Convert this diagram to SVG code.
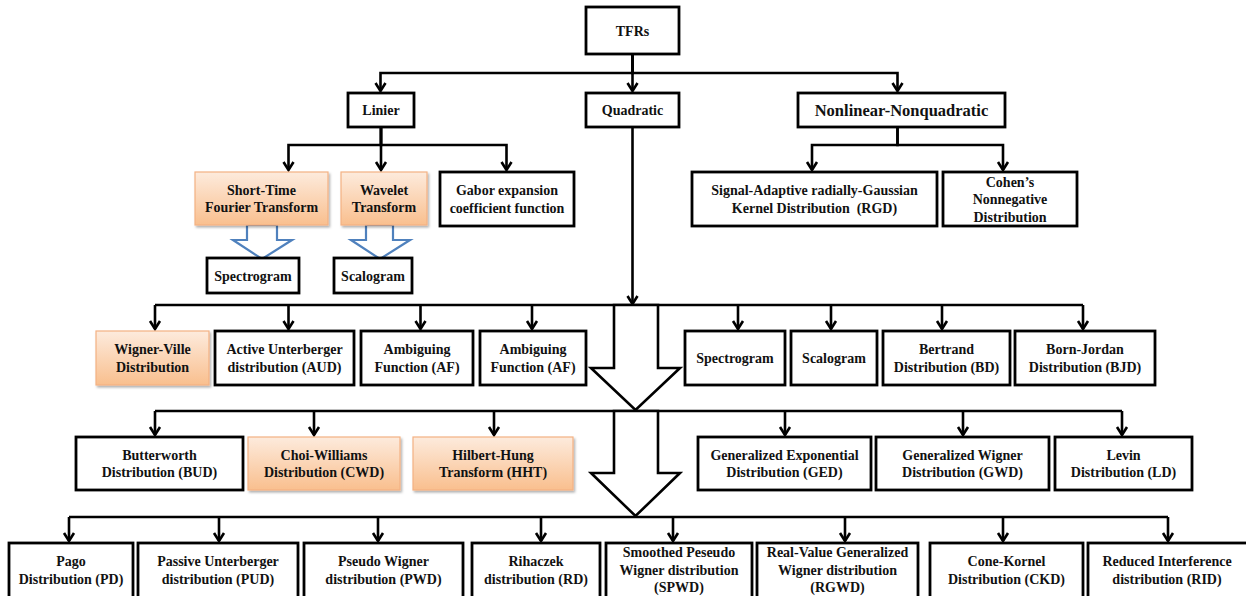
<svg xmlns="http://www.w3.org/2000/svg" width="1246" height="596" viewBox="0 0 1246 596">
  <style>
    .box { fill: #ffffff; stroke: #000000; stroke-width: 2.8; }
    .hl { fill: url(#orangeFill); stroke: #f4b183; stroke-width: 1.2; filter: url(#soft); }
    .t { font-family: "Liberation Serif", "Times New Roman", serif; font-weight: bold; font-size: 14px; fill: #111111; text-anchor: middle; }
    .big { font-size: 16.5px; }
    .wire { fill: none; stroke: #000000; stroke-width: 2.6; }
    .arr { marker-end: url(#head); }
    .fat { fill: #ffffff; stroke: #000000; stroke-width: 2.6; stroke-linejoin: miter; }
    .blue { fill: #ffffff; stroke: #4f81bd; stroke-width: 2.2; stroke-linejoin: miter; }
  </style>
  <defs>
    <linearGradient id="orangeFill" x1="0" y1="0" x2="0" y2="1">
      <stop offset="0" stop-color="#fdebdd"/>
      <stop offset="1" stop-color="#f9bf8e"/>
    </linearGradient>
    <filter id="soft" x="-10%" y="-10%" width="120%" height="130%">
      <feDropShadow dx="1.5" dy="2" stdDeviation="1" flood-color="#000000" flood-opacity="0.3"/>
    </filter>
    <marker id="head" markerUnits="userSpaceOnUse" viewBox="-10 -7 12 14" refX="0" refY="0" markerWidth="12" markerHeight="14" orient="auto">
      <path d="M-8,-5 L0,0 L-8,5" fill="none" stroke="#000000" stroke-width="2.6"/>
    </marker>
  </defs>

  <!-- connectors -->
  <g id="connectors">
    <!-- TFRs to the three families -->
    <path class="wire arr" d="M632.5 54 V73 H380.5 V91"/>
    <path class="wire arr" d="M632.5 54 V91"/>
    <path class="wire arr" d="M632.5 54 V73 H897.5 V91"/>
    <!-- Linier branch -->
    <path class="wire arr" d="M381 127 V145 H288.5 V170"/>
    <path class="wire arr" d="M381 127 V170"/>
    <path class="wire arr" d="M381 127 V145 H506.5 V170"/>
    <!-- Nonlinear branch -->
    <path class="wire arr" d="M897.5 127 V145 H812 V170"/>
    <path class="wire arr" d="M897.5 127 V145 H1003 V170"/>
    <!-- Quadratic trunk -->
    <path class="wire arr" d="M632.5 127 V304"/>

    <!-- blue block arrows under STFT and Wavelet -->
    <polygon class="blue" points="247,225 247,240 233,240 262,259 292,240 277,240 277,225"/>
    <polygon class="blue" points="366,225 366,240 351,240 380,259 410,240 393,240 393,225"/>

    <!-- quadratic row 1 -->
    <path class="wire" d="M155 305 H1083"/>
    <path class="wire arr" d="M155 305 V329"/>
    <path class="wire arr" d="M288.5 305 V329"/>
    <path class="wire arr" d="M420.5 305 V329"/>
    <path class="wire arr" d="M532 305 V329"/>
    <path class="wire arr" d="M738 305 V329"/>
    <path class="wire arr" d="M831 305 V329"/>
    <path class="wire arr" d="M942 305 V329"/>
    <path class="wire arr" d="M1083 305 V329"/>
    <polygon class="fat" points="614,305 614,368 591,368 635.5,410 680,368 658,368 658,305"/>

    <!-- quadratic row 2 -->
    <path class="wire" d="M155 411 H1122"/>
    <path class="wire arr" d="M155 411 V435"/>
    <path class="wire arr" d="M314 411 V435"/>
    <path class="wire arr" d="M494 411 V435"/>
    <path class="wire arr" d="M785 411 V435"/>
    <path class="wire arr" d="M963 411 V435"/>
    <path class="wire arr" d="M1122 411 V435"/>
    <polygon class="fat" points="614,411 614,473 591,473 635.5,516 680,473 658,473 658,411"/>

    <!-- quadratic row 3 -->
    <path class="wire" d="M69 517 H1168"/>
    <path class="wire arr" d="M69 517 V541"/>
    <path class="wire arr" d="M219 517 V541"/>
    <path class="wire arr" d="M378 517 V541"/>
    <path class="wire arr" d="M541 517 V541"/>
    <path class="wire arr" d="M673 517 V541"/>
    <path class="wire arr" d="M845 517 V541"/>
    <path class="wire arr" d="M1003 517 V541"/>
    <path class="wire arr" d="M1168 517 V541"/>
  </g>

  <!-- top levels -->
  <g id="tfrs"><rect class="box" x="586" y="7" width="93" height="47"/><text class="t" x="632.5" y="35.5">TFRs</text></g>
  <g id="linier"><rect class="box" x="348" y="93" width="66" height="34"/><text class="t" x="381" y="115">Linier</text></g>
  <g id="quadratic"><rect class="box" x="586" y="93" width="93" height="34"/><text class="t" x="632.5" y="115">Quadratic</text></g>
  <g id="nonlinear"><rect class="box" x="798" y="93" width="207" height="34"/><text class="t big" x="901.5" y="116">Nonlinear-Nonquadratic</text></g>

  <!-- linear family -->
  <g id="stft"><rect class="hl" x="195" y="172" width="133" height="53"/><text class="t" x="261.5" y="194.5">Short-Time</text><text class="t" x="261.5" y="212">Fourier Transform</text></g>
  <g id="wavelet"><rect class="hl" x="341" y="172" width="86" height="53"/><text class="t" x="384" y="194.5">Wavelet</text><text class="t" x="384" y="212">Transform</text></g>
  <g id="gabor"><rect class="box" x="440" y="172" width="134" height="54"/><text class="t" x="507" y="195">Gabor expansion</text><text class="t" x="507" y="212.5">coefficient function</text></g>
  <g id="spectrogram-stft"><rect class="box" x="207" y="258" width="92" height="35"/><text class="t" x="253" y="280.5">Spectrogram</text></g>
  <g id="scalogram-wt"><rect class="box" x="334" y="258" width="78" height="35"/><text class="t" x="373" y="280.5">Scalogram</text></g>

  <!-- nonlinear family -->
  <g id="rgd"><rect class="box" x="692" y="172" width="245" height="54"/><text class="t" x="814.5" y="195">Signal-Adaptive radially-Gaussian</text><text class="t" x="814.5" y="212.5" xml:space="preserve">Kernel Distribution  (RGD)</text></g>
  <g id="cohen"><rect class="box" x="943" y="172" width="134" height="54"/><text class="t" x="1010" y="186.5">Cohen’s</text><text class="t" x="1010" y="204">Nonnegative</text><text class="t" x="1010" y="221.5">Distribution</text></g>

  <!-- quadratic row 1 -->
  <g id="wvd"><rect class="hl" x="96" y="331" width="113" height="54"/><text class="t" x="152.5" y="354">Wigner-Ville</text><text class="t" x="152.5" y="371.5">Distribution</text></g>
  <g id="aud"><rect class="box" x="215" y="331" width="139" height="54"/><text class="t" x="284.5" y="354">Active Unterberger</text><text class="t" x="284.5" y="371.5">distribution (AUD)</text></g>
  <g id="af1"><rect class="box" x="361" y="331" width="112" height="54"/><text class="t" x="417" y="354">Ambiguing</text><text class="t" x="417" y="371.5">Function (AF)</text></g>
  <g id="af2"><rect class="box" x="480" y="331" width="106" height="54"/><text class="t" x="533" y="354">Ambiguing</text><text class="t" x="533" y="371.5">Function (AF)</text></g>
  <g id="spectrogram"><rect class="box" x="685" y="331" width="100" height="54"/><text class="t" x="735" y="363">Spectrogram</text></g>
  <g id="scalogram"><rect class="box" x="791" y="331" width="86" height="54"/><text class="t" x="834" y="363">Scalogram</text></g>
  <g id="bd"><rect class="box" x="883" y="331" width="127" height="54"/><text class="t" x="946.5" y="354">Bertrand</text><text class="t" x="946.5" y="371.5">Distribution (BD)</text></g>
  <g id="bjd"><rect class="box" x="1015" y="331" width="140" height="54"/><text class="t" x="1085" y="354">Born-Jordan</text><text class="t" x="1085" y="371.5">Distribution (BJD)</text></g>

  <!-- quadratic row 2 -->
  <g id="bud"><rect class="box" x="76" y="437" width="167" height="53"/><text class="t" x="159.5" y="459.5">Butterworth</text><text class="t" x="159.5" y="477">Distribution (BUD)</text></g>
  <g id="cwd"><rect class="hl" x="248" y="437" width="152" height="53"/><text class="t" x="324" y="459.5">Choi-Williams</text><text class="t" x="324" y="477">Distribution (CWD)</text></g>
  <g id="hht"><rect class="hl" x="413" y="437" width="160" height="53"/><text class="t" x="493" y="459.5">Hilbert-Hung</text><text class="t" x="493" y="477">Transform (HHT)</text></g>
  <g id="ged"><rect class="box" x="698" y="437" width="173" height="53"/><text class="t" x="784.5" y="459.5">Generalized Exponential</text><text class="t" x="784.5" y="477">Distribution (GED)</text></g>
  <g id="gwd"><rect class="box" x="876" y="437" width="173" height="53"/><text class="t" x="962.5" y="459.5">Generalized Wigner</text><text class="t" x="962.5" y="477">Distribution (GWD)</text></g>
  <g id="ld"><rect class="box" x="1055" y="437" width="137" height="53"/><text class="t" x="1123.5" y="459.5">Levin</text><text class="t" x="1123.5" y="477">Distribution (LD)</text></g>

  <!-- quadratic row 3 -->
  <g id="pd"><rect class="box" x="9" y="543" width="124" height="60"/><text class="t" x="71" y="566">Pago</text><text class="t" x="71" y="584">Distribution (PD)</text></g>
  <g id="pud"><rect class="box" x="138" y="543" width="160" height="60"/><text class="t" x="218" y="566">Passive Unterberger</text><text class="t" x="218" y="584">distribution (PUD)</text></g>
  <g id="pwd"><rect class="box" x="304" y="543" width="159" height="60"/><text class="t" x="383.5" y="566">Pseudo Wigner</text><text class="t" x="383.5" y="584">distribution (PWD)</text></g>
  <g id="rd"><rect class="box" x="472" y="543" width="128" height="60"/><text class="t" x="536" y="566">Rihaczek</text><text class="t" x="536" y="584">distribution (RD)</text></g>
  <g id="spwd"><rect class="box" x="606" y="543" width="146" height="60"/><text class="t" x="679" y="557">Smoothed Peseudo</text><text class="t" x="679" y="575">Wigner distribution</text><text class="t" x="679" y="592">(SPWD)</text></g>
  <g id="rgwd"><rect class="box" x="757" y="543" width="161" height="60"/><text class="t" x="837.5" y="557">Real-Value Generalized</text><text class="t" x="837.5" y="575">Wigner distribution</text><text class="t" x="837.5" y="592">(RGWD)</text></g>
  <g id="ckd"><rect class="box" x="930" y="543" width="153" height="60"/><text class="t" x="1006.5" y="566">Cone-Kornel</text><text class="t" x="1006.5" y="584">Distribution (CKD)</text></g>
  <g id="rid"><rect class="box" x="1088" y="543" width="165" height="60"/><text class="t" x="1167" y="566">Reduced Interference</text><text class="t" x="1167" y="584">distribution (RID)</text></g>
</svg>
